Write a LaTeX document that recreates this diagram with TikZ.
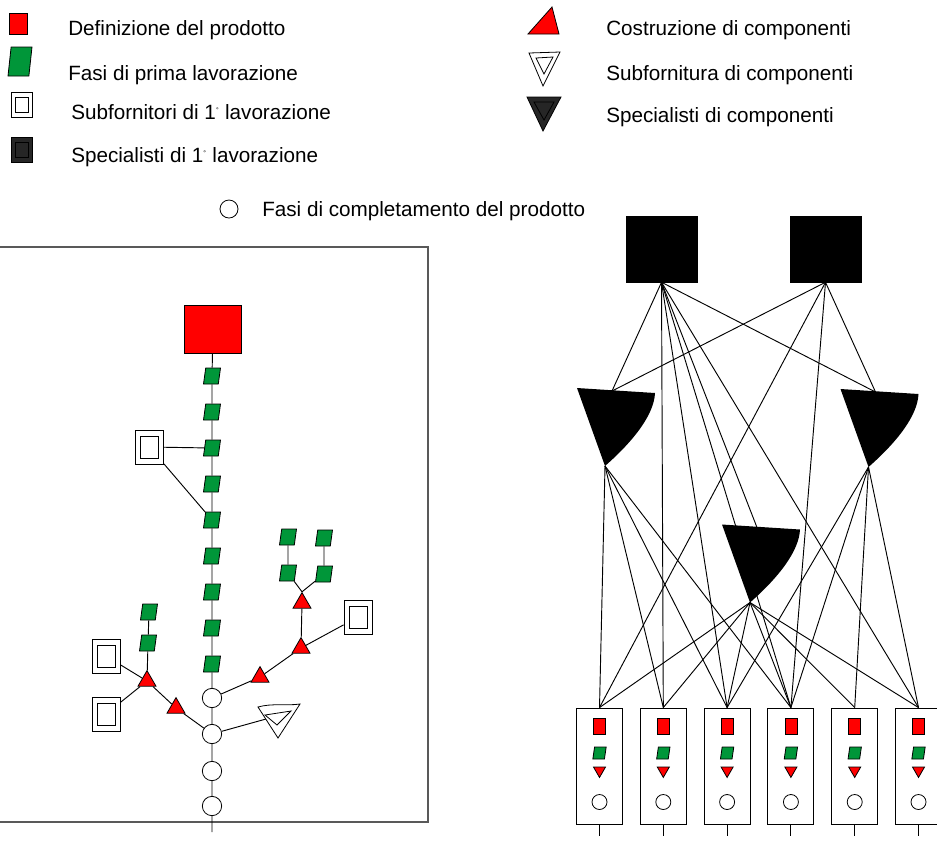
\documentclass[tikz,border=0pt]{standalone}
\usepackage{fontspec}
\setmainfont{Liberation Sans}
\usetikzlibrary{shapes.geometric}
\definecolor{fred}{RGB}{255,0,0}
\definecolor{fgreen}{RGB}{0,150,57}

\begin{document}
\begin{tikzpicture}[x=0.75pt,y=0.75pt,yscale=-1,xscale=1,
  link/.style={line width=0.7pt},
  defsq/.style={draw, fill=fred, line width=0.6pt, inner sep=0pt},
  phase/.style={trapezium, trapezium left angle=80, trapezium right angle=100, trapezium stretches=true, draw, fill=fgreen, line width=0.6pt, inner sep=1pt, minimum width=12.75pt, minimum height=12pt},
  subf/.style={draw, fill=white, line width=0.6pt, inner sep=0pt, minimum width=21pt, minimum height=25.5pt,
    path picture={\draw[line width=0.6pt] (path picture bounding box.center) +(-9,-11) rectangle +(9,11);}},
  subfkey/.style={draw, line width=0.6pt, inner sep=0pt, minimum width=15.75pt, minimum height=18.75pt,
    path picture={\draw[line width=0.6pt] (path picture bounding box.center) +(-6.5,-7.5) rectangle +(6.5,7.5);}},
  comp/.style={regular polygon, regular polygon sides=3, draw, fill=fred, line width=0.6pt, inner sep=0pt, minimum size=15.6pt},
  fin/.style={circle, draw, fill=white, line width=0.6pt, inner sep=0pt, minimum size=14.5pt},
  spec/.style={draw, fill=black, inner sep=0pt, minimum width=53.25pt, minimum height=49.5pt},
  unit/.style={draw, line width=0.7pt, inner sep=0pt, minimum width=34.5pt, minimum height=87pt},
  legend/.style={anchor=base west, inner sep=0pt, font=\fontsize{15.5}{18}\selectfont},
  funnel/.pic={
    \fill (-39,-2.5) -- (39,2.5) .. controls (38,24) and (18,50) .. (-11,75.5) -- cycle;
    \coordinate (-top) at (-4,0.5);
    \coordinate (-tip) at (-11,75.5);
  }
]
\useasboundingbox (0,0) rectangle (937,844);

%Legend: left column
\node[defsq, minimum width=13.5pt, minimum height=15.75pt] (kdef) at (18,23.5) {};
\node[phase, minimum width=18pt, minimum height=21.75pt] (kphase) at (20,61.5) {};
\node[subfkey] (ksub) at (21.5,104.5) {};
\node[subfkey, fill=black!85] (kspec) at (21.5,149.5) {};
\node[fin, minimum size=13.5pt] (kfin) at (229,209) {};

% Text Node
\node[legend] (tdef) at (68,35) {Definizione del prodotto};
% Text Node
\node[legend] (tphase) at (68,80) {Fasi di prima lavorazione};
% Text Node
\node[legend] (tsub) at (71,119) {Subfornitori di 1\textsuperscript{\tiny °} lavorazione};
% Text Node
\node[legend] (tspec) at (71,162) {Specialisti di 1\textsuperscript{\tiny °} lavorazione};
% Text Node
\node[legend] (tfin) at (262,216) {Fasi di completamento del prodotto};

%Legend: right column
\filldraw[fill=fred, line width=0.6pt] (552,7) -- (528,34) -- (559,34) -- cycle;
\draw[line width=0.6pt] (529,53) -- (560,52) -- (543,86) -- cycle;
\draw[line width=0.6pt] (536,58) -- (553,57) -- (544,74) -- cycle;
\filldraw[fill=black!85, line width=0.6pt] (527,97) -- (561,97) -- (543,131) -- cycle;
\draw[line width=0.6pt] (534,102) -- (554,102) -- (544,120) -- cycle;

% Text Node
\node[legend] (tcomp) at (606,35) {Costruzione di componenti};
% Text Node
\node[legend] (tsubc) at (606,80) {Subfornitura di componenti};
% Text Node
\node[legend] (tspecc) at (606,122) {Specialisti di componenti};

%Left panel frame
\draw[line width=1pt, black!65] (0,247) -- (428,247) -- (428,822) -- (0,822);

%Main stem
\node[defsq, minimum width=42.75pt, minimum height=36pt] (def) at (213,329) {};
\foreach \i in {1,...,9} \node[phase] (g\i) at (212,{340+36*\i}) {};
\node[fin] (c1) at (212,698) {};
\node[fin] (c2) at (212,734) {};
\node[fin] (c3) at (212,771) {};
\node[fin] (c4) at (212,806) {};
\coordinate (stem) at (212,832);
\draw[link] (def) -- (g1) -- (g2) -- (g3) -- (g4) -- (g5) -- (g6) -- (g7) -- (g8) -- (g9) -- (c1) -- (c2) -- (c3) -- (c4) -- (stem);

%Subfornitore on the stem
\node[subf] (s1) at (149.5,447) {};
\draw[link] (s1) -- (g3);
\draw[link] (s1) -- (g5);

%Right branch
\node[comp] (ta) at (260,677) {};
\node[comp] (tb) at (301,648) {};
\node[comp] (tc) at (302,603) {};
\node[phase] (ga1) at (288,573) {};
\node[phase] (ga2) at (288,537) {};
\node[phase] (gb1) at (324,574) {};
\node[phase] (gb2) at (324,538) {};
\node[subf] (s2) at (358,617) {};
\draw[link] (c1) -- (ta) -- (tb) -- (tc);
\draw[link] (tc.north) -- (ga1) -- (ga2);
\draw[link] (tc.north) -- (gb1) -- (gb2);
\draw[link] (s2) -- (tb);

%Left branch
\node[comp] (td) at (176,708) {};
\node[comp] (te) at (147,681) {};
\node[phase] (gc1) at (148,643) {};
\node[phase] (gc2) at (149,612) {};
\node[subf] (s3) at (106,656) {};
\node[subf] (s4) at (106,714) {};
\draw[link] (c2) -- (td) -- (te) -- (gc1) -- (gc2);
\draw[link] (s3) -- (te);
\draw[link] (s4) -- (te);

%Subfornitura di componenti
\draw[line width=0.6pt] (258,707) .. controls (272,703) and (286,706) .. (300,704) -- (278,738) -- cycle;
\draw[line width=0.6pt] (265,715) -- (291,711) -- (277,725) -- cycle;
\coordinate (sf) at (266,719);
\draw[link] (c2) -- (sf);

%Specialists network
\node[spec] (L) at (661.5,249) {};
\node[spec] (R) at (825.5,249) {};
\pic[transform shape] (lt) at (616,390.5) {funnel};
\pic[transform shape] (rt) at (879.5,391.5) {funnel};
\pic[transform shape] (mt) at (761,527) {funnel};

\foreach \i in {1,...,6}{
  \node[unit] (u\i) at ({535.7+63.8*\i},766) {};
  \node[defsq, minimum width=9pt, minimum height=12pt] (u\i-d) at ({535.7+63.8*\i},726) {};
  \node[phase, minimum width=10pt, minimum height=9pt] (u\i-p) at ({535.7+63.8*\i},753) {};
  \node[comp, shape border rotate=180, minimum size=10.4pt] (u\i-c) at ({535.7+63.8*\i},770.5) {};
  \node[fin, minimum size=11.25pt] (u\i-f) at ({535.7+63.8*\i},802) {};
  \draw[link] (u\i.south) -- ++(0,12);
}

\draw[link] (L.south) -- (lt-top);
\draw[link] (L.south) -- (rt-top);
\draw[link] (L.south) -- (mt-top);
\foreach \j in {2,3,4,6} \draw[link] (L.south) -- (u\j.north);
\draw[link] (R.south) -- (lt-top);
\draw[link] (R.south) -- (rt-top);
\foreach \j in {1,4} \draw[link] (R.south) -- (u\j.north);
\foreach \j in {1,...,4} \draw[link] (lt-tip) -- (u\j.north);
\foreach \j in {3,...,6} \draw[link] (rt-tip) -- (u\j.north);
\foreach \j in {1,...,6} \draw[link] (mt-tip) -- (u\j.north);

\end{tikzpicture}
\end{document}
